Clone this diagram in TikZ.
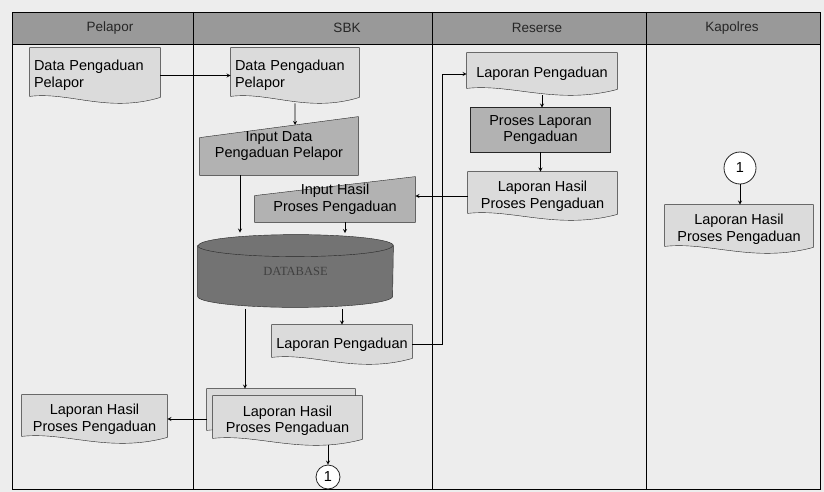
\documentclass[tikz,border=0pt]{standalone}
\usepackage{fontspec}
\setmainfont{Liberation Sans}
\newfontfamily\dbfont{Liberation Serif}
\usetikzlibrary{calc,backgrounds}

\newcommand\bodyfont{\fontsize{14.5}{16.5}\selectfont}
\newcommand\hdrfont{\fontsize{13.5}{15}\selectfont}

\tikzset{
	boxdim/.style 2 args={minimum width=#1pt, minimum height=#2pt},
	docbox/.style={inner sep=3pt, font=\bodyfont, align=center},
	docleft/.style={docbox, align=left, text width=#1pt},
	hdr/.style={font=\hdrfont, text=black!85},
	conn/.style={draw=black!85, fill=white, circle, minimum size=#1pt, inner sep=0pt, font=\bodyfont},
	docfill/.style={fill=black!14, draw=black!85},
	procfill/.style={fill=black!30, draw=black!85},
	dbfill/.style={fill=black!55, draw=black!85},
}

% document shape with wavy bottom
\newcommand\docwave[1]{%
	\path[docfill] (#1.north west) -- (#1.north east) -- ([yshift=6pt]#1.south east)
		.. controls ($(#1.south west)!0.6!(#1.south east)+(0,10)$)
		and ($(#1.south west)!0.3!(#1.south east)+(0,-12)$) .. ([yshift=7pt]#1.south west) -- cycle;}
% manual input, slanted top
\newcommand\manualin[2]{%
	\path[procfill] (#1.south west) -- (#1.south east) -- (#1.north east) -- (#2) -- cycle;}

\begin{document}
\begin{tikzpicture}[x=1pt,y=-1pt,>=stealth,line width=0.8pt]
\useasboundingbox (0,0) rectangle (824,492);

% LANES
\draw (12,12) rectangle (820,489);
\draw (12,44) -- (820,44);
\foreach \x in {193,432,646} \draw (\x,12) -- (\x,489);
\node[hdr] (hPelapor) at (110,28) {Pelapor};
\node[hdr] (hSBK) at (347,28) {SBK};
\node[hdr] (hReserse) at (537,28) {Reserse};
\node[hdr] (hKapolres) at (732,28) {Kapolres};

% PELAPOR
\node[docleft=122, boxdim={130}{55}] (dataP) at (95,75.5) {Data Pengaduan\\Pelapor};
\node[docbox, boxdim={145}{48}] (hasilP) at (94.5,419) {Laporan Hasil\\Proses Pengaduan};

% SBK
\node[docleft=120, boxdim={128}{55}] (dataS) at (295,75.5) {Data Pengaduan\\Pelapor};
\node[docbox, boxdim={158}{58}] (inData) at (279,146) {Input Data\\Pengaduan Pelapor};
\coordinate (inDataTop) at ([yshift=-21pt]inData.north west);
\node[docbox, boxdim={160}{45}] (inHasil) at (335,199.5) {Input Hasil\\Proses Pengaduan};
\coordinate (inHasilTop) at ([yshift=-19pt]inHasil.north west);
\node[inner sep=0pt, boxdim={195}{72}, font=\dbfont\fontsize{12.5}{14}\selectfont, text=black!75] (db) at (295.5,271) {DATABASE};
\node[docbox, boxdim={140}{39}] (lapS) at (342,344.5) {Laporan Pengaduan};
\node[boxdim={148}{48}, inner sep=0pt] (hasilSback) at (281,413) {};
\node[docbox, boxdim={149}{49}] (hasilS) at (287.5,420.5) {Laporan Hasil\\Proses Pengaduan};
\node[conn=24] (conS) at (328,477) {1};

% RESERSE
\node[docbox, boxdim={150}{42}] (lapR) at (542,74) {Laporan Pengaduan};
\node[docbox, boxdim={139}{44}] (prosR) at (540.5,130) {Proses Laporan\\Pengaduan};
\node[docbox, boxdim={149}{48}] (hasilR) at (542.5,196) {Laporan Hasil\\Proses Pengaduan};

% KAPOLRES
\node[conn=32] (conK) at (740,168) {1};
\node[docbox, boxdim={148}{48}] (hasilK) at (739,229) {Laporan Hasil\\Proses Pengaduan};

% FLOW
\draw[->] (dataP.east) -- (dataS.west);
\coordinate (dataSdown) at (dataS.south |- inData.south);
\draw[->] (dataS.south) -- (intersection of dataS.south--dataSdown and inDataTop--inData.north east);
\draw[->,shorten >=2pt] ([xshift=-39pt]inData.south) -- ([xshift=-39pt]inData.south |- db.north);
\draw[->,shorten >=1.5pt] ([xshift=10pt]inHasil.south) -- ([xshift=10pt]inHasil.south |- db.north);
\draw[->] (hasilR.west) -- (hasilR.west -| inHasil.east);
\draw[->,shorten <=1.5pt] (lapS.north |- db.south) -- (lapS.north);
\draw[->,shorten <=1.5pt] ([xshift=-50.5pt]db.south) -- ([xshift=-50.5pt]db.south |- hasilSback.north);
\draw[->] (lapS.east) -- ++(30,0) |- (lapR.west);
\draw[->] (hasilSback.west |- hasilP.east) -- (hasilP.east);
\draw[->] (hasilS.south -| conS) -- (conS);
\draw[->] (lapR.south) -- (lapR.south |- prosR.north);
\draw[->] (prosR.south) -- (prosR.south |- hasilR.north);
\draw[->] (conK) -- (conK |- hasilK.north);

% SHAPES
\begin{scope}[on background layer]
\path[fill=black!7] (0,0) rectangle (824,492);
\path[fill=black!40] (12,12) rectangle (820,44);
\docwave{dataP}
\docwave{hasilP}
\docwave{dataS}
\manualin{inData}{inDataTop}
\manualin{inHasil}{inHasilTop}
\path[dbfill] ([yshift=-11pt]db.north west) -- ([yshift=11pt]db.south west)
	arc[start angle=180, end angle=360, x radius=97.5pt, y radius=11pt]
	-- ([yshift=-11pt]db.north east)
	arc[start angle=0, end angle=180, x radius=97.5pt, y radius=11pt] -- cycle;
\draw[black!85] ([yshift=-11pt]db.north west) arc[start angle=180, end angle=360, x radius=97.5pt, y radius=11pt];
\docwave{lapS}
\docwave{hasilSback}
\docwave{hasilS}
\docwave{lapR}
\path[procfill] (prosR.north west) rectangle (prosR.south east);
\docwave{hasilR}
\docwave{hasilK}
\end{scope}

\end{tikzpicture}
\end{document}
